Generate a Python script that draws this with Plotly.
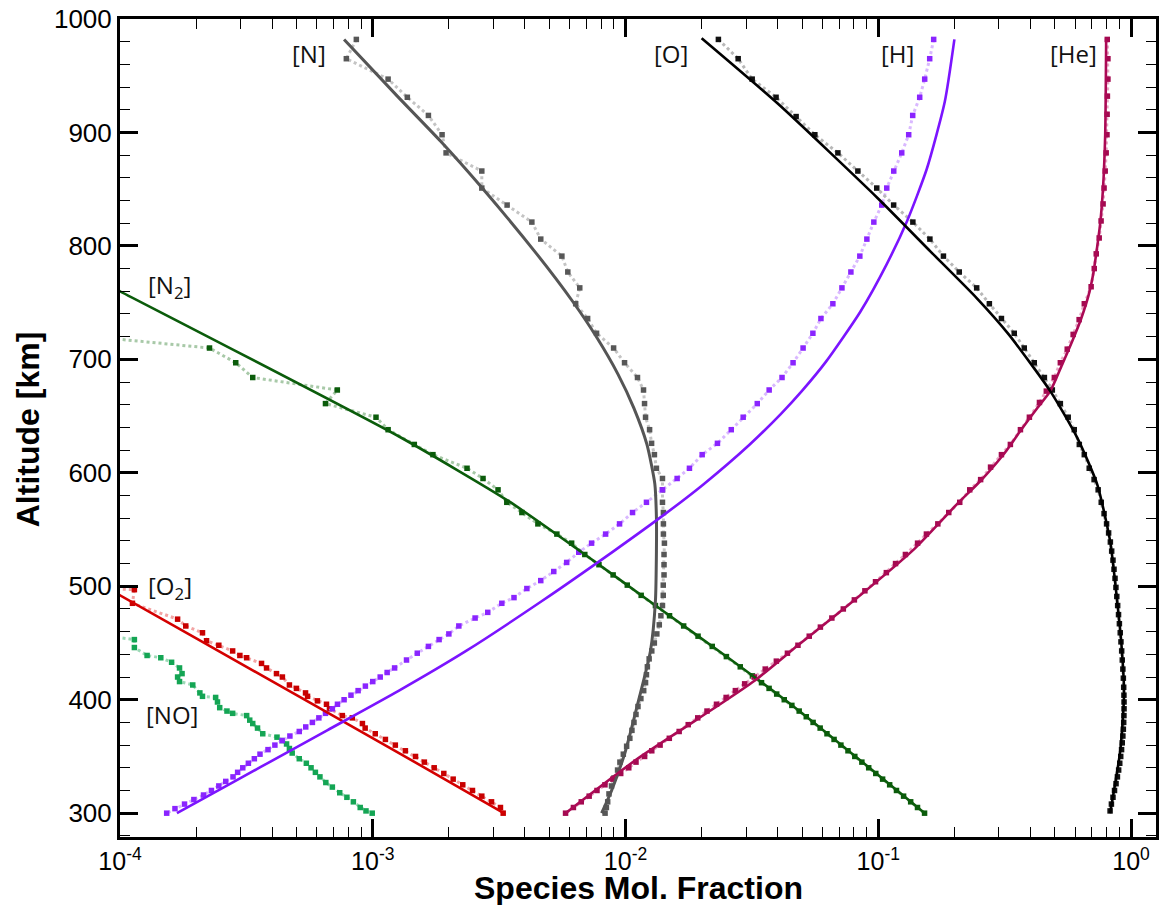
import plotly.graph_objects as go

# ---------------- model (solid) profiles: altitude [km] / mole fraction ----------------
o_model_alt = [983, 925, 842, 795, 754, 722, 672, 631, 590, 540, 487, 450, 405, 355, 300]
o_model_x = [0.0200, 0.0402, 0.0995, 0.161, 0.245, 0.328, 0.479, 0.612, 0.734, 0.826, 0.881, 0.915, 0.938, 0.906, 0.826]

he_model_alt = [300, 347, 382, 417, 448, 481, 533, 573, 593, 617, 637, 657, 672, 696, 716, 736, 757, 775, 795, 820, 850, 898, 983]
he_model_x = [0.00579, 0.0110, 0.0190, 0.0325, 0.0481, 0.0738, 0.139, 0.206, 0.254, 0.315, 0.365, 0.425, 0.479, 0.535,
              0.585, 0.635, 0.680, 0.708, 0.730, 0.755, 0.774, 0.790, 0.797]

h_model_alt = [300, 314, 340.5, 373, 408, 443, 487, 531, 564, 590, 625, 652, 672, 698, 742, 784, 822, 868, 927, 982]
h_model_x = [0.000168, 0.000218, 0.000359, 0.00066, 0.00127, 0.00234, 0.00467, 0.00898, 0.01439, 0.02037, 0.0310,
             0.0412, 0.0498, 0.0621, 0.0849, 0.108, 0.130, 0.1556, 0.1832, 0.200]

n_model_alt = [982, 932, 892, 851, 793, 751, 719, 687, 657, 625, 590, 560, 531, 487, 443, 399, 355, 320, 300]
n_model_x = [0.00077, 0.00125, 0.00186, 0.00271, 0.00445, 0.00618, 0.00771, 0.00933, 0.01079, 0.01215, 0.01306,
             0.01325, 0.01325, 0.01313, 0.01255, 0.01125, 0.0100, 0.00881, 0.00804]

n2_model_alt = [770, 760, 632, 575, 530, 483, 435, 391, 300]
n2_model_x = [0.0000820, 0.000100, 0.00127, 0.00345, 0.00671, 0.01313, 0.0262, 0.0481, 0.1526]

o2_model_alt = [497, 492, 419, 353, 300]
o2_model_x = [0.0000908, 0.000100, 0.00038, 0.00127, 0.00330]

# ---------------- simulation (dotted + square markers) profiles ----------------
o_data_alt = [982, 965, 947, 931, 914, 898, 882, 866, 851, 836, 821, 806, 791, 777, 763, 749, 736, 723, 710, 697,
              684, 673, 661, 649, 638, 625, 616, 604, 594, 585, 574, 564, 555, 547, 539, 531, 523, 515, 507, 499,
              491, 483, 475, 467, 459, 451, 443, 435, 427, 419, 411, 404, 398, 392, 386, 380, 374, 368, 362, 356,
              350, 344, 338, 332, 326, 320, 314, 308, 302]
o_data_x = [0.0233, 0.0279, 0.0317, 0.0394, 0.0473, 0.0561, 0.0692, 0.0830, 0.0986, 0.115, 0.137, 0.160, 0.181, 0.209,
            0.245, 0.275, 0.307, 0.345, 0.378, 0.414, 0.454, 0.488, 0.525, 0.564, 0.596, 0.624, 0.653, 0.683, 0.714,
            0.741, 0.762, 0.782, 0.800, 0.815, 0.828, 0.838, 0.848, 0.856, 0.864, 0.871, 0.878, 0.885, 0.892, 0.899,
            0.906, 0.912, 0.918, 0.923, 0.928, 0.932, 0.935, 0.937, 0.938, 0.938, 0.937, 0.935, 0.932, 0.928, 0.923,
            0.917, 0.910, 0.902, 0.893, 0.883, 0.872, 0.860, 0.848, 0.836, 0.826]

he_data_alt = [982, 965, 947, 932, 916, 898, 882, 866, 851, 837, 822, 807, 793, 780, 764, 749, 735, 722, 709, 697,
               684, 672, 662, 649, 638, 625, 616, 605, 594, 585, 574, 565, 555, 546, 538, 528, 520, 512, 504, 496,
               488, 480, 472, 464, 456, 448, 441, 434, 427, 420, 414, 408, 402, 396, 390, 384, 378, 372, 366, 360,
               355, 350, 345, 340, 335, 330, 325, 320, 315, 310, 305, 300]
he_data_x = [0.805, 0.810, 0.810, 0.806, 0.804, 0.803, 0.797, 0.790, 0.782, 0.775, 0.761, 0.748, 0.728, 0.715, 0.695,
             0.653, 0.623, 0.590, 0.559, 0.525, 0.497, 0.462, 0.434, 0.396, 0.365, 0.333, 0.307, 0.278, 0.254, 0.230,
             0.210, 0.190, 0.172, 0.155, 0.143, 0.128, 0.117, 0.1076, 0.0975, 0.0885, 0.0804, 0.0727, 0.0655, 0.0590,
             0.0533, 0.0481, 0.0437, 0.0395, 0.0357, 0.0323, 0.0296, 0.0272, 0.0250, 0.0229, 0.0210, 0.0193, 0.0177,
             0.0163, 0.0149, 0.0137, 0.0127, 0.0119, 0.0110, 0.0103, 0.00957, 0.00891, 0.00829, 0.00771, 0.00718,
             0.00668, 0.00622, 0.00579]

h_data_alt = [982, 965, 947, 931, 915, 898, 882, 866, 851, 836, 821, 806, 791, 777, 763, 749, 736, 723, 710, 697,
              684, 673, 661, 649, 638, 626, 616, 604, 595, 585, 574, 565, 555, 546, 538, 530, 521, 513, 505, 498,
              490, 485, 477, 472, 465, 458, 453, 447, 441, 435, 428, 424, 420, 416, 412, 408, 404, 400, 396, 392,
              388, 384, 380, 376, 372, 368, 364, 360, 356, 352, 348, 344, 340, 336, 332, 328, 324, 320, 316, 312,
              308, 304, 300]
h_data_x = [0.1656, 0.1597, 0.1526, 0.1458, 0.1368, 0.1319, 0.1238, 0.1151, 0.1080, 0.1032, 0.0960, 0.0901, 0.0845,
            0.0779, 0.0718, 0.0661, 0.0593, 0.0551, 0.0504, 0.0460, 0.0416, 0.0370, 0.0332, 0.0292, 0.0262, 0.0231,
            0.0201, 0.0179, 0.0160, 0.0140, 0.0121, 0.01066, 0.00947, 0.00834, 0.00734, 0.00653, 0.00585, 0.00520,
            0.00462, 0.00407, 0.00362, 0.00324, 0.00285, 0.00254, 0.00219, 0.00200, 0.00183, 0.00166, 0.00150,
            0.00136, 0.00122, 0.00114, 0.00107, 0.00100, 0.000935, 0.000875, 0.000820, 0.000770, 0.000725,
            0.000692, 0.000650, 0.000612, 0.000577, 0.000543, 0.000512, 0.000470, 0.000438, 0.000410, 0.000385,
            0.000358, 0.000340, 0.000322, 0.000306, 0.000292, 0.000280, 0.000262, 0.000246, 0.000230, 0.000214,
            0.000196, 0.000180, 0.000165, 0.000153]

n_data_alt = [982, 965, 947, 931, 915, 898, 882, 866, 851, 836, 821, 806, 791, 777, 763, 749, 736, 723, 710, 697,
              684, 673, 661, 649, 638, 626, 616, 604, 595, 585, 574, 565, 555, 546, 538, 528, 519, 510, 501, 492,
              483, 474, 466, 458, 450, 443, 436, 429, 422, 415, 408, 401, 394, 387, 380, 373, 366, 359, 352, 345,
              338, 331, 324, 317, 310, 305, 300]
n_data_x = [0.000861, 0.000786, 0.00115, 0.00137, 0.00166, 0.00188, 0.00195, 0.00270, 0.00270, 0.00340, 0.00426,
            0.00462, 0.00560, 0.00591, 0.00659, 0.00635, 0.00708, 0.00768, 0.00897, 0.00991, 0.01115, 0.01178,
            0.01189, 0.01200, 0.01245, 0.01268, 0.01301, 0.01325, 0.01400, 0.01400, 0.01400, 0.01412, 0.01412,
            0.01412, 0.01425, 0.0142, 0.0142, 0.0142, 0.0141, 0.0141, 0.0140, 0.0138, 0.0136, 0.0133, 0.0130,
            0.0127, 0.0124, 0.0122, 0.0121, 0.0120, 0.0118, 0.0115, 0.0112, 0.0110, 0.0108, 0.0106, 0.0104,
            0.0101, 0.0098, 0.0095, 0.0093, 0.0090, 0.0088, 0.0086, 0.0085, 0.0084, 0.0083]

n2_data_alt = [721, 710, 697, 684, 673, 661, 649, 638, 625, 616, 604, 595, 585, 574, 565, 555, 546, 538, 528, 519,
               510, 501, 492, 483, 474, 465, 456, 447, 438, 429, 421, 415, 410, 405, 400, 395, 390, 385, 380, 375,
               370, 365, 360, 355, 350, 345, 340, 335, 330, 325, 320, 315, 310, 305, 300]
n2_data_x = [0.0000700, 0.000226, 0.000287, 0.000335, 0.000724, 0.000650, 0.00103, 0.00115, 0.00146, 0.00173,
             0.00236, 0.00273, 0.00313, 0.00339, 0.00389, 0.00450, 0.00535, 0.00612, 0.00690, 0.00785, 0.00893,
             0.01016, 0.01153, 0.01313, 0.01493, 0.01698, 0.01936, 0.02203, 0.02506, 0.02844, 0.03177, 0.03451,
             0.03698, 0.03963, 0.04246, 0.04550, 0.04864, 0.05188, 0.05521, 0.05888, 0.06266, 0.06683, 0.07112,
             0.07586, 0.08072, 0.08610, 0.09162, 0.09772, 0.1040, 0.1109, 0.1180, 0.1259, 0.1343, 0.1429, 0.1524]

o2_data_alt = [499, 497, 485, 471, 465, 459, 452, 448, 443, 439, 437, 432, 428, 423, 420, 413, 410, 406, 403, 399,
               396, 392, 386, 384, 379, 375, 370, 365, 360, 355, 350, 345, 340, 335, 330, 325, 320, 315, 310, 305,
               300]
o2_data_x = [0.0000700, 0.000114, 0.000112, 0.000169, 0.000182, 0.000212, 0.000220, 0.000246, 0.000279, 0.000298,
             0.000317, 0.000363, 0.000380, 0.000416, 0.000439, 0.000468, 0.000499, 0.000542, 0.000552, 0.000604,
             0.000656, 0.000674, 0.000758, 0.000830, 0.000910, 0.000933, 0.001023, 0.001122, 0.001228, 0.001346,
             0.001476, 0.00160, 0.00175, 0.00191, 0.00208, 0.00227, 0.00248, 0.00270, 0.00295, 0.00320, 0.00328]

no_data_alt = [459, 453, 446, 439, 437, 433, 428, 423, 420, 416, 413, 406, 403, 402, 398, 393, 390, 388, 386, 382,
               379, 375, 370, 367, 364, 361, 357, 353, 348, 344, 340, 336, 332, 327, 323, 318, 314, 310, 305, 302,
               300]
no_data_x = [0.0000700, 0.000114, 0.000114, 0.000128, 0.000145, 0.000160, 0.000172, 0.000176, 0.000169, 0.000172,
             0.000194, 0.000207, 0.000212, 0.000239, 0.000243, 0.000248, 0.000265, 0.000279, 0.000317, 0.000326,
             0.000335, 0.000350, 0.000367, 0.000418, 0.000438, 0.000456, 0.000468, 0.000480, 0.000512, 0.000546,
             0.000570, 0.000593, 0.000618, 0.000652, 0.000692, 0.000740, 0.000790, 0.000838, 0.000892, 0.000940,
             0.000995]

# ---------------- axis ticks and labels ----------------
x_tick_vals = [1e-4, 1e-3, 1e-2, 1e-1, 1e0]
x_tick_text = ["10<sup>-4</sup>", "10<sup>-3</sup>", "10<sup>-2</sup>", "10<sup>-1</sup>", "10<sup>0</sup>"]
y_tick_vals = [300, 400, 500, 600, 700, 800, 900, 1000]

species_labels = ["[N]", "[O]", "[H]", "[He]", "[N<sub>2</sub>]", "[O<sub>2</sub>]", "[NO]"]
label_pos = [(310, 52), (673, 52), (900, 52), (1076, 52), (170, 285), (170, 586), (172, 714)]  # pixel centres

# styles: (solid colour, marker colour, dotted-line colour)
STY = {
    "O": ("#000000", "#111111", "#b8b8b8"),
    "N": ("#555555", "#575757", "#c4c4c4"),
    "H": ("#7b14ff", "#8a24ff", "#d9b8ff"),
    "He": ("#ab0a55", "#a30a50", "#eaa8c6"),
    "N2": ("#0b5c0b", "#0b5c0b", "#a8c9a8"),
    "O2": ("#d40000", "#c80000", "#f2a4a4"),
    "NO": ("#14a554", "#14a554", "#9cd9b6"),
}

fig = go.Figure()


def add_data(name, alt, xv):
    c = STY[name]
    fig.add_trace(go.Scatter(x=xv, y=alt, mode="lines+markers", name=name + " sim",
                             line=dict(color=c[2], width=3, dash="dot"),
                             marker=dict(symbol="square", size=5.5, color=c[1], line=dict(width=0)),
                             showlegend=False, hoverinfo="x+y"))


def add_model(name, alt, xv, width=2.6):
    c = STY[name]
    fig.add_trace(go.Scatter(x=xv, y=alt, mode="lines", name=name + " model",
                             line=dict(color=c[0], width=width, shape="spline", smoothing=0.6),
                             showlegend=False, hoverinfo="x+y"))


add_data("NO", no_data_alt, no_data_x)
add_data("O2", o2_data_alt, o2_data_x)
add_data("N2", n2_data_alt, n2_data_x)
add_data("N", n_data_alt, n_data_x)
add_data("H", h_data_alt, h_data_x)
add_data("He", he_data_alt, he_data_x)
add_data("O", o_data_alt, o_data_x)

add_model("O2", o2_model_alt, o2_model_x)
add_model("N2", n2_model_alt, n2_model_x)
add_model("N", n_model_alt, n_model_x, 3)
add_model("H", h_model_alt, h_model_x)
add_model("He", he_model_alt, he_model_x)
add_model("O", o_model_alt, o_model_x)

W, H = 1163, 905
L, R, T, B = 120, 4, 17, 68
pw, ph = W - L - R, H - T - B

minor_x = [m * 10 ** e for e in range(-4, 1) for m in range(2, 10)]

fig.update_layout(
    width=W, height=H,
    margin=dict(l=L, r=R, t=T, b=B),
    plot_bgcolor="white", paper_bgcolor="white",
    showlegend=False,
    font=dict(family="Liberation Sans, Arial, sans-serif", color="black"),
)

fig.update_xaxes(
    type="log", range=[-4, 0.0986],
    tickvals=x_tick_vals, ticktext=x_tick_text,
    tickfont=dict(size=25, family="Liberation Sans, Arial, sans-serif"),
    ticks="inside", ticklen=18, tickwidth=3, tickcolor="black",
    minor=dict(tickvals=minor_x, ticks="inside", ticklen=10, tickwidth=1.3, tickcolor="black", showgrid=False),
    showline=True, linewidth=3, linecolor="black", mirror="ticks",
    showgrid=False, zeroline=False,
)
fig.update_yaxes(
    range=[279, 1000],
    tickvals=y_tick_vals,
    tickfont=dict(size=26, family="Liberation Sans, Arial, sans-serif"),
    ticks="inside", ticklen=18, tickwidth=3, tickcolor="black",
    minor=dict(dtick=20, ticks="inside", ticklen=10, tickwidth=1.3, tickcolor="black", showgrid=False),
    showline=True, linewidth=3, linecolor="black", mirror="ticks",
    showgrid=False, zeroline=False,
)

annotations = []
for txt, (px, py) in zip(species_labels, label_pos):
    annotations.append(dict(text=txt, xref="paper", yref="paper",
                            x=(px - L) / pw, y=(H - B - py) / ph,
                            xanchor="center", yanchor="middle", showarrow=False,
                            font=dict(family="Open Sans, Noto Sans, sans-serif", size=24, color="#111111")))
annotations.append(dict(text="<b>Species Mol. Fraction</b>", xref="paper", yref="paper",
                        x=0.5, y=(H - B - 888) / ph, xanchor="center", yanchor="middle", showarrow=False,
                        font=dict(family="Liberation Sans, Arial, sans-serif", size=32, color="black")))
annotations.append(dict(text="<b>Altitude [km]</b>", xref="paper", yref="paper",
                        x=(28 - L) / pw, y=(H - B - 428) / ph, xanchor="center", yanchor="middle",
                        textangle=-90, showarrow=False,
                        font=dict(family="Liberation Sans, Arial, sans-serif", size=32, color="black")))
fig.update_layout(annotations=annotations)

fig.write_html("out.html")
